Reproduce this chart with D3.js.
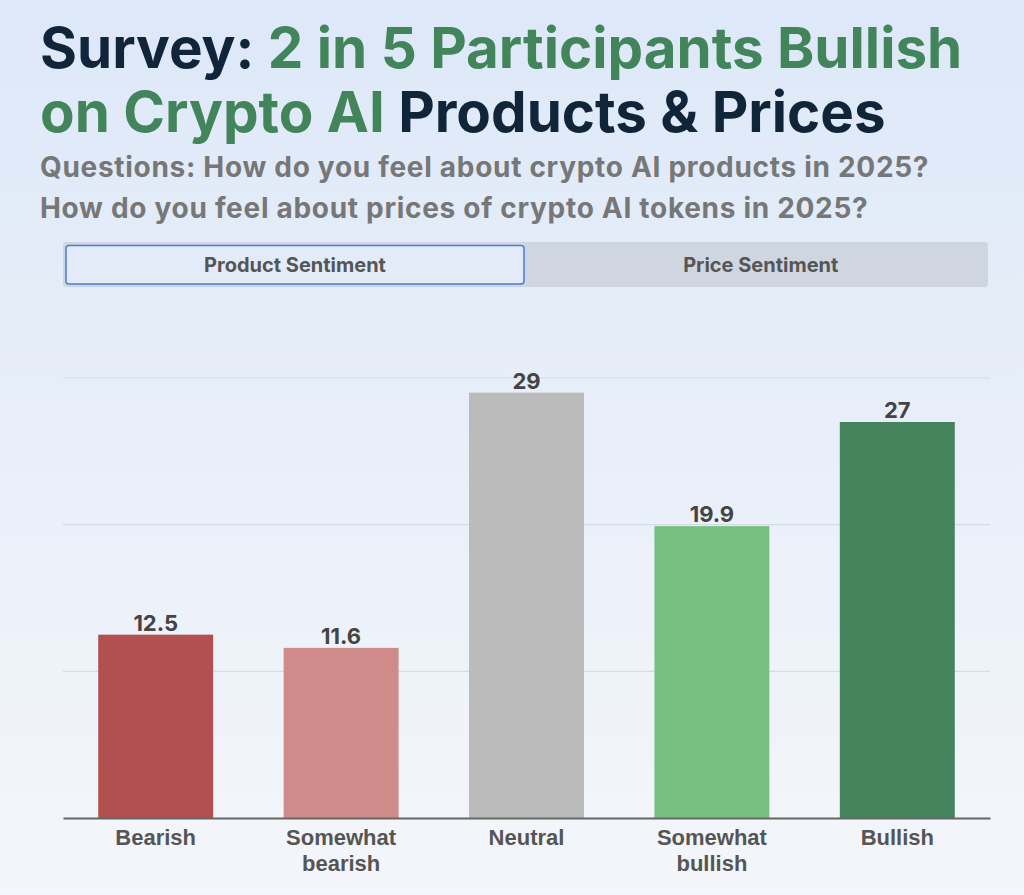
<!DOCTYPE html>
<html>
<head>
<meta charset="utf-8">
<script src="https://cdn.jsdelivr.net/npm/d3@7"></script>
<style>
    body { margin: 0; padding: 0; }
    svg { display: block; font-family: Inter, "Noto Sans", sans-serif; }
</style>
</head>
<body>
<script>
// data
var categories = ["Bearish", "Somewhat bearish", "Neutral", "Somewhat bullish", "Bullish"];
var values = [12.5, 11.6, 29, 19.9, 27];
var barColors = ["#b24f4f", "#cf8a8a", "#bbbbbb", "#77c080", "#44835c"];
var gridTicks = [10, 20, 30];
var tabs = ["Product Sentiment", "Price Sentiment"];

function init()
{
    var w = 1024;
    var h = 895;

    var svg = d3.select("body")
                .append("svg")
                .attr("width", w)
                .attr("height", h);

    // background
    var defs = svg.append("defs");
    var grad = defs.append("linearGradient")
                   .attr("id", "bg")
                   .attr("x1", 0).attr("y1", 0)
                   .attr("x2", 0).attr("y2", 1);
    grad.append("stop").attr("offset", "0%").attr("stop-color", "#dde8f8");
    grad.append("stop").attr("offset", "100%").attr("stop-color", "#f4f6fa");
    svg.append("rect")
       .attr("width", w)
       .attr("height", h)
       .attr("fill", "url(#bg)");

    // title
    var t1 = svg.append("text")
                .attr("x", 40).attr("y", 68)
                .style("font-size", "56.5px")
                .style("font-weight", 700);
    t1.append("tspan").attr("fill", "#10253a").text("Survey: ");
    t1.append("tspan").attr("fill", "#43855b").text("2 in 5 Participants Bullish");

    var t2 = svg.append("text")
                .attr("x", 40).attr("y", 132)
                .style("font-size", "56.5px")
                .style("font-weight", 700);
    t2.append("tspan").attr("fill", "#43855b").text("on Crypto AI ");
    t2.append("tspan").attr("fill", "#10253a").text("Products & Prices");

    // subtitle
    svg.append("text")
       .attr("x", 40).attr("y", 177)
       .attr("fill", "#777777")
       .style("font-size", "28px")
       .style("letter-spacing", "0.7px")
       .style("font-weight", 700)
       .text("Questions: How do you feel about crypto AI products in 2025?");
    svg.append("text")
       .attr("x", 40).attr("y", 218)
       .attr("fill", "#777777")
       .style("font-size", "28px")
       .style("letter-spacing", "0.7px")
       .style("font-weight", 700)
       .text("How do you feel about prices of crypto AI tokens in 2025?");

    // tabs
    var left = 63, right = 990;
    var tabX = d3.scaleBand()
                 .domain(tabs)
                 .range([left, 988]);

    svg.append("rect")
       .attr("x", left).attr("y", 242)
       .attr("width", 988 - left).attr("height", 45)
       .attr("rx", 3)
       .attr("fill", "#cfd6e0");

    svg.append("rect")
       .attr("x", 66).attr("y", 245.5)
       .attr("width", 458).attr("height", 38.5)
       .attr("rx", 3)
       .attr("fill", "#e3ebf8")
       .attr("stroke", "#4a7bd8")
       .attr("stroke-width", 1.5);

    svg.selectAll(".tab")
       .data(tabs)
       .enter()
       .append("text")
       .attr("class", "tab")
       .attr("x", function(d, i) { return i == 0 ? 295 : tabX(d) + tabX.bandwidth() / 2 + 4; })
       .attr("y", 272)
       .attr("text-anchor", "middle")
       .attr("fill", "#555555")
       .style("font-size", "20px")
       .style("font-weight", 700)
       .text(function(d) { return d; });

    // chart
    var x = d3.scaleBand()
              .domain(categories)
              .range([left, right])
              .paddingInner(0.38)
              .paddingOuter(0.19);

    var y = d3.scaleLinear()
              .domain([0, 30])
              .range([818, 378]);

    svg.selectAll(".grid")
       .data(gridTicks)
       .enter()
       .append("line")
       .attr("class", "grid")
       .attr("x1", left).attr("x2", right)
       .attr("y1", function(d) { return y(d); })
       .attr("y2", function(d) { return y(d); })
       .attr("stroke", "#d5dbe4")
       .attr("stroke-width", 1.2);

    svg.selectAll(".bar")
       .data(values)
       .enter()
       .append("rect")
       .attr("class", "bar")
       .attr("x", function(d, i) { return x(categories[i]); })
       .attr("y", function(d) { return y(d); })
       .attr("width", x.bandwidth())
       .attr("height", function(d) { return y(0) - y(d); })
       .attr("fill", function(d, i) { return barColors[i]; });

    svg.selectAll(".val")
       .data(values)
       .enter()
       .append("text")
       .attr("class", "val")
       .attr("x", function(d, i) { return x(categories[i]) + x.bandwidth() / 2; })
       .attr("y", function(d) { return y(d) - 4; })
       .attr("text-anchor", "middle")
       .attr("fill", "#444444")
       .style("font-size", "22px")
       .style("font-weight", 700)
       .text(function(d) { return d; });

    // x axis
    var xAxis = svg.append("g")
                   .attr("transform", "translate(0," + y(0) + ")")
                   .call(d3.axisBottom(x).tickSize(0).tickPadding(0));
    xAxis.select(".domain")
         .attr("stroke", "#666666")
         .attr("stroke-width", 2);
    xAxis.selectAll(".tick text").remove();

    xAxis.selectAll(".tick")
         .append("text")
         .attr("text-anchor", "middle")
         .attr("fill", "#555555")
         .style("font-size", "22px")
         .style("font-weight", 700)
         .each(function(d) {
             var words = d.split(" ");
             var el = d3.select(this);
             if (words.length > 1) {
                 el.append("tspan").attr("x", 0).attr("y", 27).text(words[0]);
                 el.append("tspan").attr("x", 0).attr("y", 53).text(words.slice(1).join(" "));
             } else {
                 el.append("tspan").attr("x", 0).attr("y", 27).text(d);
             }
         });
}
window.onload = init
</script>
</body>
</html>
